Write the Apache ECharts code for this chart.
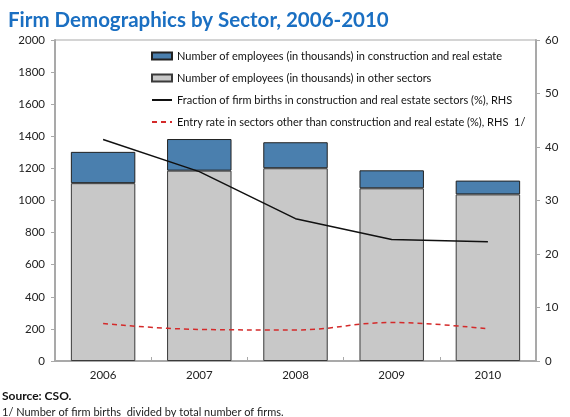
<!DOCTYPE html>
<html>
<head>
<meta charset="utf-8">
<script src="https://cdn.jsdelivr.net/npm/echarts@6/dist/echarts.min.js"></script>
<style>
  html, body { margin: 0; padding: 0; background: #fff; }
  #chart { width: 570px; height: 417px; }
</style>
</head>
<body>
<div id="chart"></div>
<script>
// Firm demographics by sector, 2006-2010
const years = ['2006', '2007', '2008', '2009', '2010'];
// employees in thousands
const otherSectors = [1108, 1186, 1201, 1076, 1038];
const constructionRealEstate = [195, 197, 162, 112, 86];
// percentages, right-hand scale
const fractionBirthsConstruction = [41.4, 35.4, 26.6, 22.7, 22.3];
const entryRateOther = [7.0, 5.9, 5.8, 7.2, 6.0];

const leftTicks = { min: 0, max: 2000, interval: 200 };
const rightTicks = { min: 0, max: 60, interval: 10 };

const names = {
  cre: 'Number of employees (in thousands) in construction and real estate',
  other: 'Number of employees (in thousands) in other sectors',
  frac: 'Fraction of firm births in construction and real estate sectors (%), RHS',
  entry: 'Entry rate in sectors other than construction and real estate (%), RHS  1/'
};

const FONT = 'Lato';
const AXIS_GREY = '#a9a9a9';

const chart = echarts.init(document.getElementById('chart'), null, { renderer: 'canvas' });

chart.setOption({
  animation: false,
  textStyle: { fontFamily: FONT },
  title: [
    {
      text: 'Firm Demographics by Sector, 2006-2010',
      left: 3, top: 5,
      textStyle: { fontFamily: FONT, fontSize: 20.5, fontWeight: 'bold', color: '#1a6fc2' }
    },
    {
      text: 'Source: CSO.',
      left: -3, top: 385,
      textStyle: { fontFamily: FONT, fontSize: 12, fontWeight: 'bold', color: '#111' }
    },
    {
      text: '1/ Number of firm births  divided by total number of firms.',
      left: -3, top: 402,
      textStyle: { fontFamily: FONT, fontSize: 11, fontWeight: 'normal', color: '#222' }
    }
  ],
  grid: {
    left: 55, right: 34, top: 40, bottom: 56,
    show: true, borderColor: AXIS_GREY, borderWidth: 1
  },
  legend: {
    orient: 'vertical',
    left: 146, top: 44,
    itemWidth: 20, itemHeight: 7,
    itemGap: 8,
    textStyle: { fontFamily: FONT, fontSize: 11, color: '#111', lineHeight: 14 },
    data: [
      { name: names.cre, icon: 'rect' },
      { name: names.other, icon: 'rect' },
      { name: names.frac, itemStyle: { opacity: 0 } },
      { name: names.entry, itemStyle: { opacity: 0 } }
    ]
  },
  xAxis: {
    type: 'category',
    data: years,
    boundaryGap: true,
    axisLine: { lineStyle: { color: AXIS_GREY, width: 2 } },
    axisTick: { show: true, inside: true, length: 4, lineStyle: { color: AXIS_GREY } },
    axisLabel: { color: '#222', fontSize: 11.5, margin: 8 }
  },
  yAxis: [
    {
      type: 'value',
      min: leftTicks.min, max: leftTicks.max, interval: leftTicks.interval,
      axisLine: { show: true, lineStyle: { color: AXIS_GREY, width: 2 } },
      axisTick: { show: true, length: 4, lineStyle: { color: AXIS_GREY } },
      splitLine: { show: false },
      axisLabel: { color: '#222', fontSize: 11.5, margin: 10, formatter: v => String(v) }
    },
    {
      type: 'value',
      position: 'right',
      min: rightTicks.min, max: rightTicks.max, interval: rightTicks.interval,
      axisLine: { show: true, lineStyle: { color: AXIS_GREY, width: 2 } },
      axisTick: { show: true, length: 4, lineStyle: { color: AXIS_GREY } },
      splitLine: { show: false },
      axisLabel: { color: '#222', fontSize: 11.5, margin: 9, formatter: v => String(v) }
    }
  ],
  series: [
    {
      name: names.other,
      type: 'bar',
      stack: 'emp',
      barWidth: '67%',
      data: otherSectors,
      itemStyle: { color: '#c8c8c8', borderColor: '#3a3a3a', borderWidth: 1 }
    },
    {
      name: names.cre,
      type: 'bar',
      stack: 'emp',
      barWidth: '67%',
      data: constructionRealEstate,
      itemStyle: { color: '#4a7fae', borderColor: '#222', borderWidth: 1 }
    },
    {
      name: names.frac,
      type: 'line',
      yAxisIndex: 1,
      data: fractionBirthsConstruction,
      symbol: 'none',
      lineStyle: { color: '#111', width: 1.5 },
      itemStyle: { color: '#111' },
      z: 5
    },
    {
      name: names.entry,
      type: 'line',
      yAxisIndex: 1,
      data: entryRateOther,
      symbol: 'none',
      smooth: 0.4,
      lineStyle: { color: '#d42a2a', width: 1.5, type: [5, 4] },
      itemStyle: { color: '#d42a2a' },
      z: 5
    }
  ]
});
</script>
</body>
</html>
